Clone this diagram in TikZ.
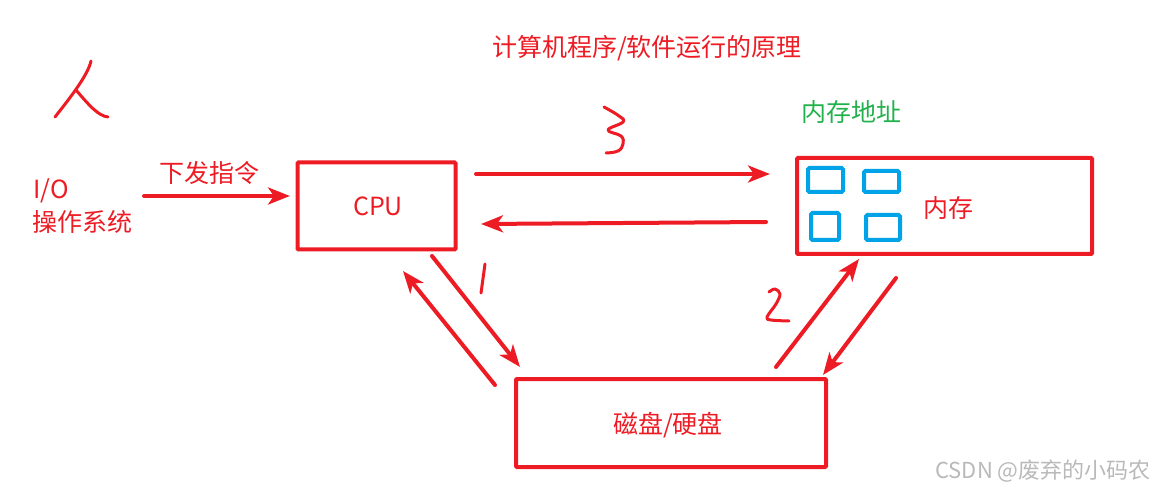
\documentclass[tikz,border=0pt]{standalone}
\usepackage{fontspec}
\setmainfont{Noto Sans CJK SC}
\usetikzlibrary{arrows.meta}
\definecolor{pred}{RGB}{237,28,36}
\definecolor{pblue}{RGB}{0,162,232}
\definecolor{pgreen}{RGB}{34,177,76}
\begin{document}
\begin{tikzpicture}[x=1pt,y=-1pt,
  box/.style={draw=pred,line width=4pt,rounded corners=1pt,minimum width=#1,inner sep=0pt},
  cell/.style={draw=pblue,line width=4pt,rounded corners=1.5pt},
  conn/.style={draw=pred,line width=4pt,line cap=round,-{Stealth[length=22pt,width=17pt,inset=6pt]}},
  hand/.style={draw=pred,line width=3pt,line cap=round,line join=round},
  lbl/.style={text=pred,font=\fontsize{25}{29}\selectfont,inner sep=0pt},
]
\useasboundingbox (0,0) rectangle (1159,494);

% boxes
\node[box=158pt,minimum height=87pt] (cpu) at (376.5,206) {};
\node[lbl] at (378,206) {CPU};
\node[box=295pt,minimum height=96pt] (mem) at (944.5,206) {};
\node[lbl] (memtxt) at (948,208) {内存};
\node[box=310pt,minimum height=88pt] (disk) at (671,423) {};
\node[lbl] at (668,425) {磁盘/硬盘};

% memory cells
\draw[cell] (808,168) rectangle (843,192);
\draw[cell] (864,171) rectangle (899,192);
\draw[cell] (811,213) rectangle (839,240);
\draw[cell] (866,215) rectangle (900,240);

% texts
\node[lbl] (title) at (647,48) {计算机程序/软件运行的原理};
\node[lbl,text=pgreen] (addr) at (851,112) {内存地址};
\node[lbl] (cmd) at (209,173) {下发指令};
\node[lbl,anchor=west] (io) at (33,191) {I/O};
\node[lbl,anchor=west] (os) at (32,222) {操作系统};
\node[text=gray!55,font=\fontsize{22}{24}\selectfont,inner sep=0pt] (wm) at (1043,471) {CSDN @废弃的小码农};

% connector end points
\coordinate (i1) at (144,196); \coordinate (i2) at (290,196);
\coordinate (a1) at (476,174); \coordinate (a2) at (770,174);
\coordinate (b1) at (766,222); \coordinate (b2) at (481,224);
\coordinate (c1) at (432,256); \coordinate (c2) at (520,367);
\coordinate (d1) at (495,385); \coordinate (d2) at (403,271);
\coordinate (e1) at (776,367); \coordinate (e2) at (859,259);
\coordinate (f1) at (896,278); \coordinate (f2) at (823,375);

\draw[conn] (i1) -- (i2);
\draw[conn] (a1) -- (a2);
\draw[conn] (b1) -- (b2);
\draw[conn] (c1) -- (c2);
\draw[conn] (d1) -- (d2);
\draw[conn] (e1) -- (e2);
\draw[conn] (f1) -- (f2);

% handwritten marks
\draw[hand] (91,61) .. controls (88,75) and (70,98) .. (55,117);
\draw[hand] (76,90) .. controls (88,104) and (98,116) .. (108,117);
\draw[hand] (485,264) -- (481,293);
\draw[hand] plot[smooth,tension=0.7] coordinates {(604,107) (619,116) (623,122) (608,130) (621,136) (623,144) (618,151) (606,153)};
\draw[hand] plot[smooth,tension=0.6] coordinates {(769,292) (775,289) (780,294) (776,304) (767,317) (771,320) (789,321)};
\end{tikzpicture}
\end{document}
